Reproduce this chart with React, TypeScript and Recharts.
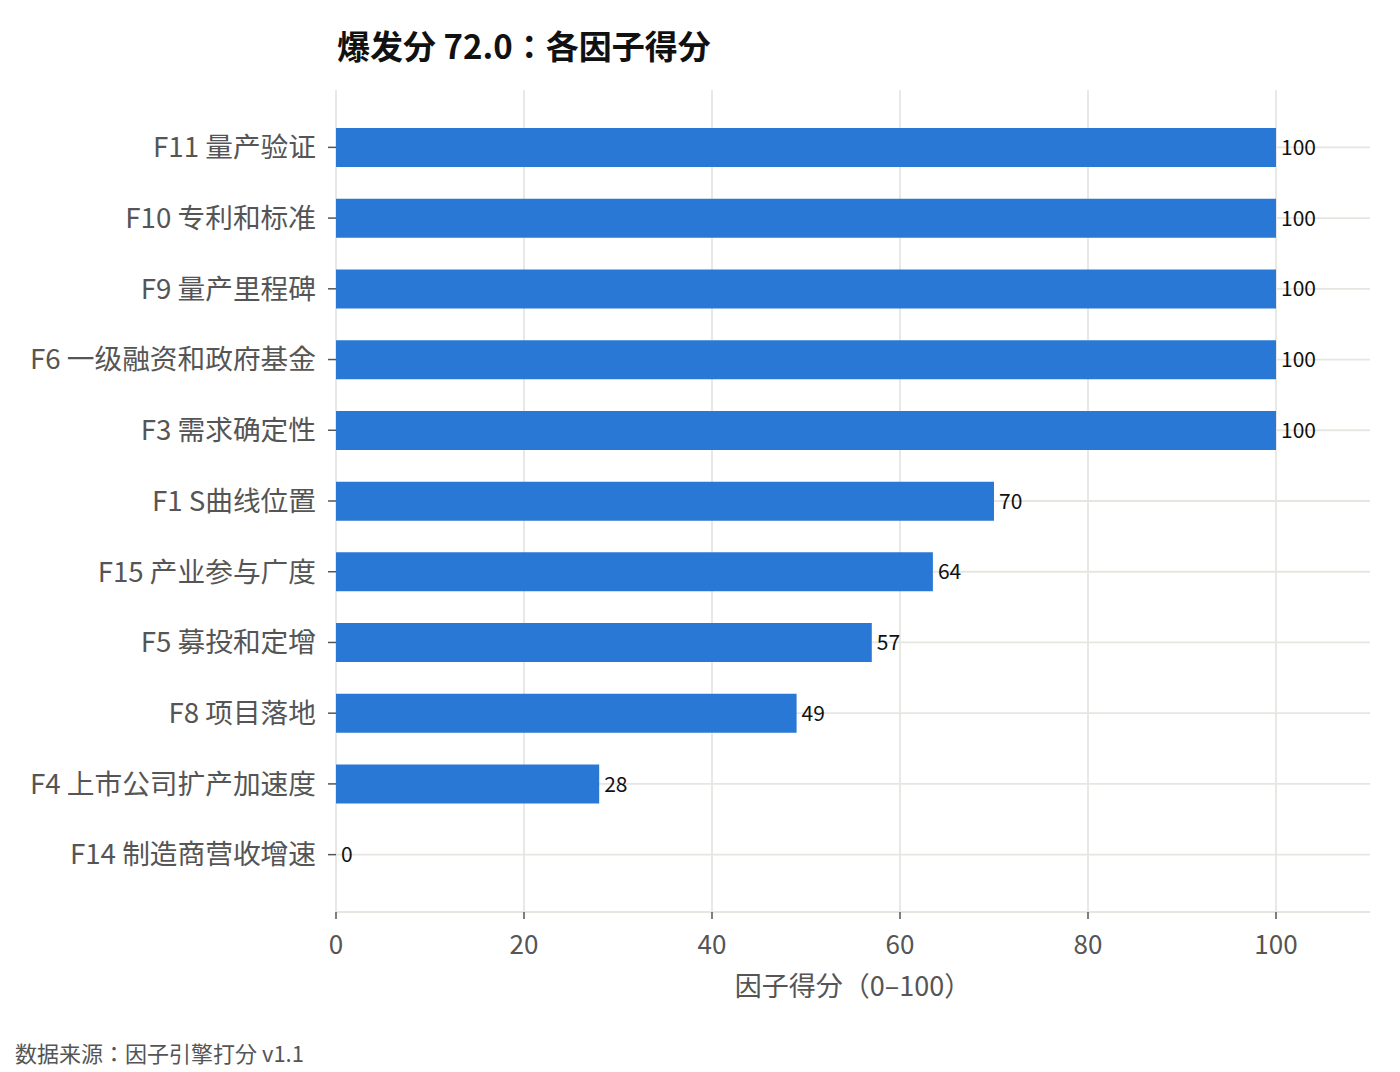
import React from 'react';
import { BarChart, Bar, XAxis, YAxis, CartesianGrid, LabelList, Label } from 'recharts';

const categories = [
  'F11 量产验证',
  'F10 专利和标准',
  'F9 量产里程碑',
  'F6 一级融资和政府基金',
  'F3 需求确定性',
  'F1 S曲线位置',
  'F15 产业参与广度',
  'F5 募投和定增',
  'F8 项目落地',
  'F4 上市公司扩产加速度',
  'F14 制造商营收增速',
];
const scores = [100, 100, 100, 100, 100, 70, 63.5, 57, 49, 28, 0];
const xTicks = [0, 20, 40, 60, 80, 100];

const titleText = '爆发分 72.0：各因子得分';
const xLabelText = '因子得分（0–100）';
const footerText = '数据来源：因子引擎打分 v1.1';

const data = categories.map((name, i) => ({ name, score: scores[i] }));

const FONT = '"Noto Sans CJK JP", "Noto Sans CJK SC", "Noto Sans", sans-serif';
const GRID = '#e6e6e1';

export default function App() {
  return (
    <div style={{ position: 'absolute', left: 0, top: 0, width: 1400, height: 1072, background: '#fff', fontFamily: FONT }}>
      <div style={{ position: 'absolute', left: 337, top: 23, fontSize: 33, fontWeight: 700, color: '#111', whiteSpace: 'nowrap', lineHeight: '44px' }}>
        {titleText}
      </div>
      <BarChart
        width={1400}
        height={1072}
        data={data}
        layout="vertical"
        margin={{ top: 90, right: 30, bottom: 60, left: 0 }}
        style={{ fontFamily: FONT }}
      >
        <CartesianGrid
          stroke={GRID}
          strokeWidth={1.8}
          verticalValues={xTicks}
          horizontalValues={categories}
        />
        <XAxis
          type="number"
          domain={[0, 110]}
          ticks={xTicks}
          height={100}
          tickSize={7}
          tickMargin={17}
          axisLine={{ stroke: GRID, strokeWidth: 2 }}
          tickLine={{ stroke: '#555', strokeWidth: 1.5 }}
          tick={{ fontSize: 26, fill: '#555', fontFamily: FONT }}
          allowDataOverflow
        >
          <Label
            value={xLabelText}
            position="insideBottom"
            offset={16}
            style={{ fontSize: 27, fill: '#555', fontFamily: FONT }}
          />
        </XAxis>
        <YAxis
          type="category"
          dataKey="name"
          width={336}
          interval={0}
          padding={{ top: 22, bottom: 22 }}
          axisLine={false}
          tickSize={8}
          tickMargin={12}
          tickLine={{ stroke: '#555', strokeWidth: 1.5 }}
          tick={{ fontSize: 27.7, fill: '#555', fontFamily: FONT }}
        />
        <Bar dataKey="score" fill="#2a78d5" barSize={39} minPointSize={0.01} isAnimationActive={false}>
          <LabelList
            dataKey="score"
            position="right"
            offset={5}
            formatter={(v: number) => String(Math.round(v))}
            style={{ fontSize: 21, fill: '#111', fontFamily: FONT }}
          />
        </Bar>
      </BarChart>
      <div style={{ position: 'absolute', left: 15, top: 1037, fontSize: 22, color: '#555', whiteSpace: 'nowrap', lineHeight: '30px' }}>
        {footerText}
      </div>
    </div>
  );
}
